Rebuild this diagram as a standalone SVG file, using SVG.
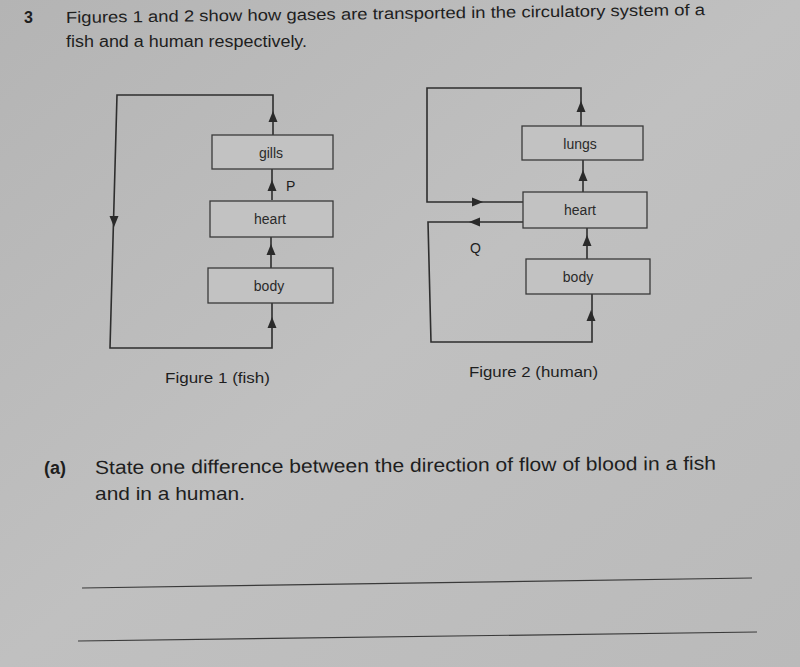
<svg xmlns="http://www.w3.org/2000/svg" xmlns:xlink="http://www.w3.org/1999/xlink" width="800" height="667" viewBox="0 0 800 667">
<defs>
<style>
.bg{fill:#bcbcbc}
.box{fill:#c2c2c2;stroke:#3a3a3a;stroke-width:1.3}
.ln{fill:none;stroke:#2e2e2e;stroke-width:1.6}
.lbl{font-family:"Liberation Sans",Arial,sans-serif;font-size:14px;fill:#2a2a2a;text-anchor:middle}
.txt{font-family:"Liberation Sans",Arial,sans-serif;fill:#1e1e1e}
.ah{fill:#2a2a2a}
</style>
<path id="ah" d="M0,0 L-4.5,11 L4.5,11 Z"/>
<linearGradient id="g" x1="0" y1="0" x2="1" y2="1">
<stop offset="0" stop-color="#b4b4b4"/>
<stop offset="0.5" stop-color="#c0c0c0"/>
<stop offset="1" stop-color="#bababa"/>
</linearGradient>
</defs>
<rect width="800" height="667" fill="url(#g)"/>

<g id="header" class="txt">
<text x="24" y="23" font-size="16" font-weight="bold">3</text>
<text x="66" y="23" font-size="16" textLength="639" lengthAdjust="spacingAndGlyphs" transform="rotate(-0.7 66 23)">Figures 1 and 2 show how gases are transported in the circulatory system of a</text>
<text x="66" y="47" font-size="16" textLength="241" lengthAdjust="spacingAndGlyphs">fish and a human respectively.</text>
</g>

<g id="connectors">
<!-- Figure 1 -->
<path class="ln" d="M273,135 L273,95 L117,95 L110,348 L272,348 L272,303"/>
<path class="ln" d="M272,169 L272,200"/>
<path class="ln" d="M271,236 L271,268"/>
<use xlink:href="#ah" class="ah" transform="translate(273,111)"/>
<use xlink:href="#ah" class="ah" transform="translate(272,180)"/>
<use xlink:href="#ah" class="ah" transform="translate(271,244)"/>
<use xlink:href="#ah" class="ah" transform="translate(272,317)"/>
<use xlink:href="#ah" class="ah" transform="translate(114,227) rotate(180)"/>
<!-- Figure 2 -->
<path class="ln" d="M581,126 L581,88 L427,88 L427,202 L523,202"/>
<path class="ln" d="M523,222 L428,222 L431,342 L592,342 L592,294"/>
<path class="ln" d="M583,160 L583,192"/>
<path class="ln" d="M587,228 L587,259"/>
<use xlink:href="#ah" class="ah" transform="translate(581,101)"/>
<use xlink:href="#ah" class="ah" transform="translate(583,170)"/>
<use xlink:href="#ah" class="ah" transform="translate(587,235)"/>
<use xlink:href="#ah" class="ah" transform="translate(591,310)"/>
<use xlink:href="#ah" class="ah" transform="translate(483,202) rotate(90)"/>
<use xlink:href="#ah" class="ah" transform="translate(469,222) rotate(-90)"/>
</g>

<g id="fish-gills"><rect class="box" x="212" y="135" width="121" height="34"/><text class="lbl" x="271" y="158">gills</text></g>
<g id="fish-heart"><rect class="box" x="210" y="201" width="123" height="36"/><text class="lbl" x="270" y="224">heart</text></g>
<g id="fish-body"><rect class="box" x="208" y="268" width="125" height="35"/><text class="lbl" x="269" y="291">body</text></g>
<g id="label-P"><text class="txt" x="286" y="191" font-size="14">P</text></g>

<g id="human-lungs"><rect class="box" x="522" y="126" width="121" height="34"/><text class="lbl" x="580" y="149">lungs</text></g>
<g id="human-heart"><rect class="box" x="523" y="192" width="124" height="36"/><text class="lbl" x="580" y="215">heart</text></g>
<g id="human-body"><rect class="box" x="526" y="259" width="124" height="35"/><text class="lbl" x="578" y="282">body</text></g>
<g id="label-Q"><text class="txt" x="470" y="253" font-size="14">Q</text></g>

<g id="captions" class="txt" font-size="15">
<text x="165" y="383" textLength="105" lengthAdjust="spacingAndGlyphs">Figure 1 (fish)</text>
<text x="469" y="377" textLength="129" lengthAdjust="spacingAndGlyphs">Figure 2 (human)</text>
</g>

<g id="question" class="txt">
<text x="44" y="474" font-size="18" font-weight="bold">(a)</text>
<text x="95" y="474" font-size="19" textLength="621" lengthAdjust="spacingAndGlyphs" transform="rotate(-0.4 95 474)">State one difference between the direction of flow of blood in a fish</text>
<text x="95" y="500" font-size="19" textLength="150" lengthAdjust="spacingAndGlyphs">and in a human.</text>
</g>

<g id="answer-lines" stroke="#3a3a3a" stroke-width="1.2">
<line x1="82" y1="588" x2="752" y2="578"/>
<line x1="78" y1="641" x2="757" y2="632"/>
</g>
</svg>
